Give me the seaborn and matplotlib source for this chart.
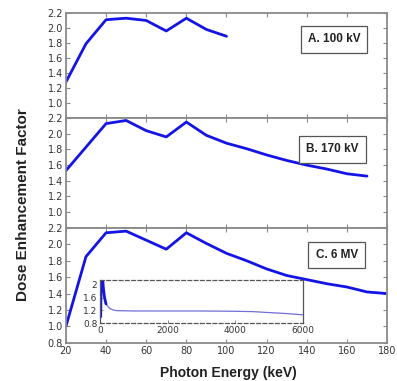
import numpy as np
import pandas as pd
import seaborn as sns
import matplotlib.pyplot as plt

# photon energies (keV) and dose enhancement factors
energy_a = [20, 30, 40, 50, 60, 70, 80, 90, 100]
def_a = [1.28, 1.79, 2.11, 2.13, 2.10, 1.96, 2.13, 1.98, 1.89]

energy_b = [20, 30, 40, 50, 60, 70, 80, 90, 100, 110, 120, 130, 140, 150, 160, 170]
def_b = [1.53, 1.83, 2.13, 2.17, 2.04, 1.96, 2.15, 1.98, 1.88, 1.81, 1.73, 1.66, 1.60, 1.55, 1.49, 1.46]

energy_c = [20, 30, 40, 50, 60, 70, 80, 90, 100, 110, 120, 130, 140, 150, 160, 170, 180]
def_c = [1.00, 1.85, 2.14, 2.16, 2.05, 1.94, 2.14, 2.01, 1.89, 1.80, 1.70, 1.62, 1.57, 1.52, 1.48, 1.42, 1.40]

# inset: full 6 MV spectrum
energy_full = [180, 250, 300, 400, 500, 1000, 2000, 3000, 4000, 4500, 5000, 5500, 6000]
def_full = [1.40, 1.30, 1.25, 1.21, 1.19, 1.18, 1.18, 1.18, 1.17, 1.16, 1.13, 1.10, 1.06]

labels = ["A. 100 kV", "B. 170 kV", "C. 6 MV"]
x_ticks = [20, 40, 60, 80, 100, 120, 140, 160, 180]

sns.set_theme(style="ticks")
plt.rcParams["font.family"] = ["DejaVu Sans"]

blue = "#1414e6"
frame = "#8a8a8a"

fig = plt.figure(figsize=(3.97, 3.81), dpi=100)
left, width = 0.166, 0.809
bottoms = [0.690, 0.402, 0.100]
heights = [0.276, 0.288, 0.302]
box_pos = [(0.835, 0.748), (0.83, 0.714), (0.843, 0.765)]
data = [(energy_a, def_a), (energy_b, def_b), (energy_c, def_c)]

for i, (xs, ys) in enumerate(data):
    ax = fig.add_axes([left, bottoms[i], width, heights[i]])
    df = pd.DataFrame({"E": xs, "DEF": ys})
    sns.lineplot(data=df, x="E", y="DEF", ax=ax, color=blue, lw=2.0)
    ax.set_xlim(20, 180)
    ax.set_ylim(0.8, 2.2)
    ax.set_xticks(x_ticks)
    if i < 2:
        ax.set_yticks([1.0, 1.2, 1.4, 1.6, 1.8, 2.0, 2.2])
        ax.set_xticklabels([])
    else:
        ax.set_yticks([0.8, 1.0, 1.2, 1.4, 1.6, 1.8, 2.0, 2.2])
        ax.set_xticklabels([str(t) for t in x_ticks])
    ax.set_yticklabels([f"{t:.1f}" for t in ax.get_yticks()])
    ax.set_xlabel("")
    ax.set_ylabel("")
    ax.tick_params(direction="in", top=True, right=True, length=3, width=0.8,
                   color=frame, labelsize=7, pad=2, labelcolor="#333333")
    for s in ax.spines.values():
        s.set_color(frame)
        s.set_linewidth(1.3)
    bx, by = box_pos[i]
    ax.text(bx, by, labels[i], transform=ax.transAxes, ha="center", va="center",
            fontsize=8.5, fontweight="bold", color="#222222", family="Liberation Sans",
            bbox=dict(boxstyle="square,pad=0.6", fc="white", ec="#555555", lw=0.9))

# inset with the full spectrum
ins = fig.add_axes([0.252, 0.152, 0.511, 0.113])
df_in = pd.DataFrame({"E": energy_c + energy_full, "DEF": def_c + def_full})
sns.lineplot(data=df_in, x="E", y="DEF", ax=ins, color="#6f6fd8", lw=0.9)
sns.lineplot(data=pd.DataFrame({"E": energy_c, "DEF": def_c}), x="E", y="DEF",
             ax=ins, color=blue, lw=2.0)
ins.set_xlim(0, 6000)
ins.set_ylim(0.8, 2.15)
ins.set_xticks([0, 2000, 4000, 6000])
ins.set_yticks([0.8, 1.2, 1.6, 2.0])
ins.set_yticklabels(["0.8", "1.2", "1.6", "2"])
ins.set_xlabel("")
ins.set_ylabel("")
ins.tick_params(direction="in", length=2, width=0.7, color=frame,
                labelsize=6.5, pad=2, labelcolor="#333333")
for name, s in ins.spines.items():
    s.set_color("#555555")
    s.set_linewidth(0.9)
    if name in ("top", "bottom"):
        s.set_linestyle((0, (3, 2)))

fig.text(0.058, 0.462, "Dose Enhancement Factor", rotation=90, ha="center", va="center",
         fontsize=11, fontweight="bold", color="#222222", family="Liberation Sans")
fig.text(0.574, 0.022, "Photon Energy (keV)", ha="center", va="center",
         fontsize=10, fontweight="bold", color="#222222", family="Liberation Sans")

fig.savefig("out.png", dpi=100)
